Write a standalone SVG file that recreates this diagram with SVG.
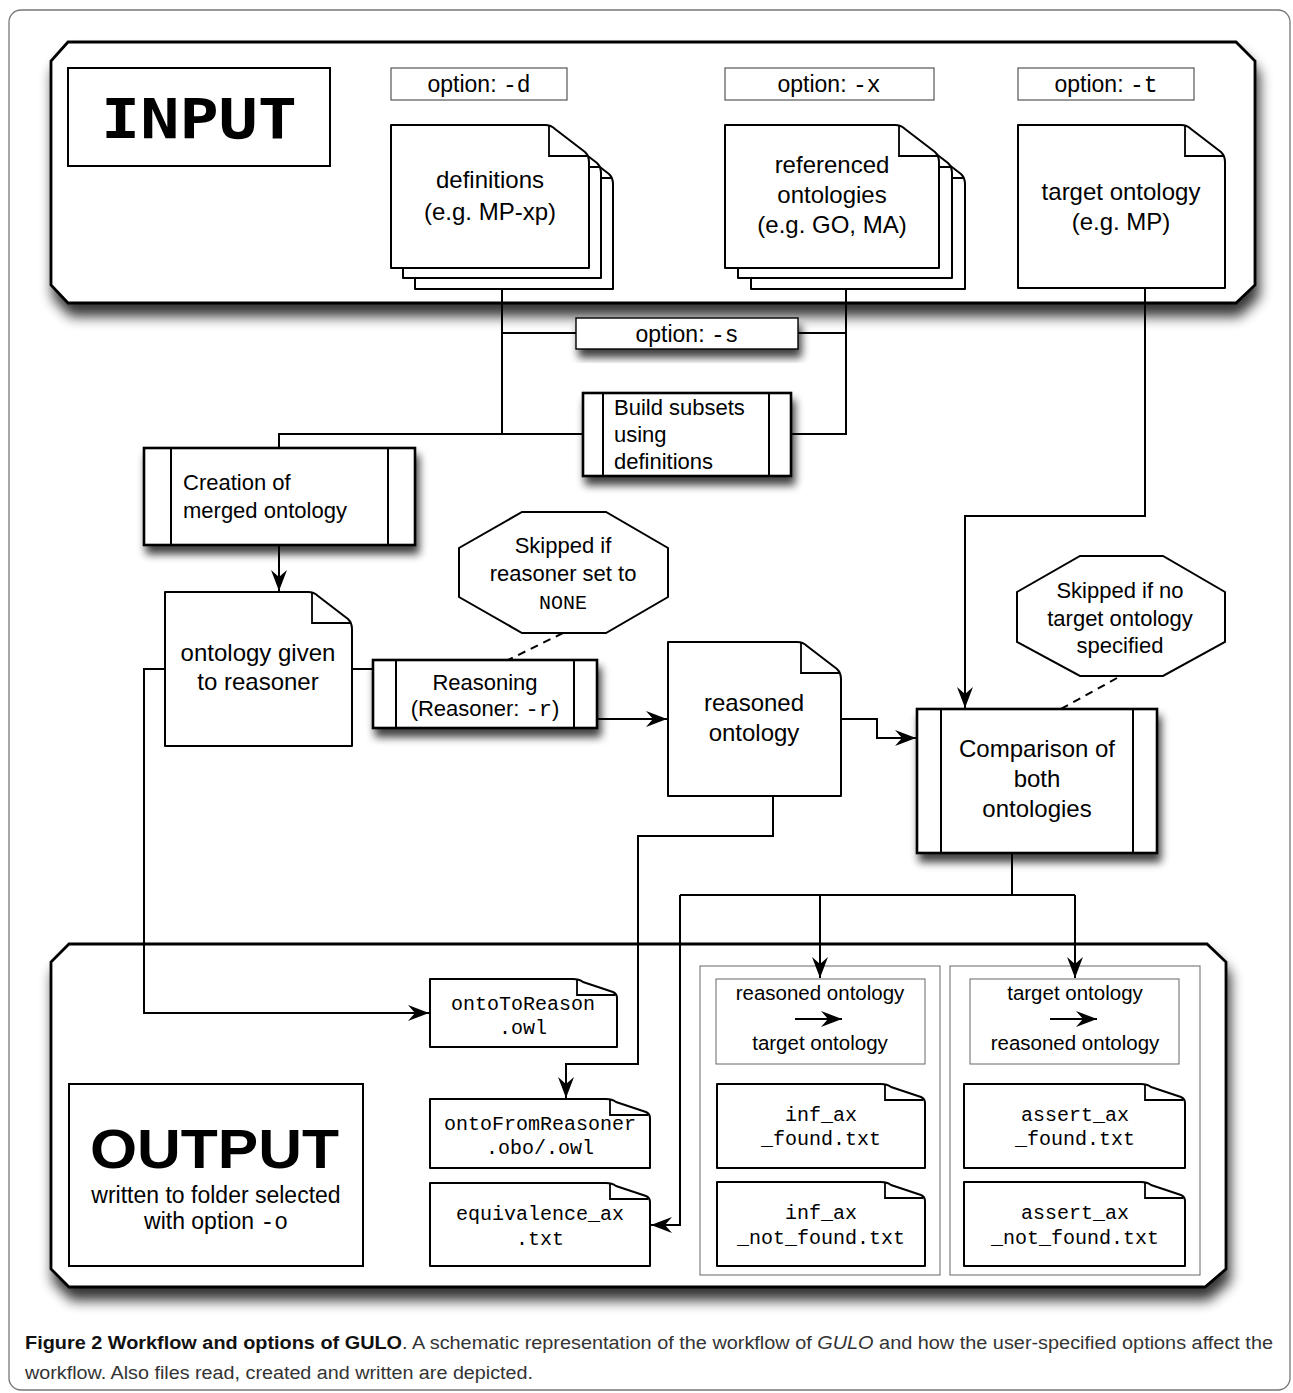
<svg xmlns="http://www.w3.org/2000/svg" width="1293" height="1393" viewBox="0 0 1293 1393">
<style>
.t{font-family:"Liberation Sans",Arial,sans-serif;font-size:24px;fill:#000;text-anchor:middle}
.s{font-size:22px}
.o{font-size:23px}
.h{font-size:20.5px}
.w{font-size:23px}
.l{text-anchor:start}
.m{font-family:"Liberation Mono","Courier New",monospace}
.ms{font-family:"Liberation Mono","Courier New",monospace;font-size:20px}
.box{fill:#fff;stroke:#000;stroke-width:2.6}
.bar{fill:none;stroke:#000;stroke-width:2}
.doc{fill:#fff;stroke:#000;stroke-width:2;stroke-linejoin:round}
.fold{fill:none;stroke:#000;stroke-width:1.8}
.opt{fill:#fff;stroke:#555;stroke-width:1.2}
.thin{fill:#fff;stroke:#666;stroke-width:1}
.panel{fill:#fff;stroke:#000;stroke-width:2.8;stroke-linejoin:miter}
.c{fill:none;stroke:#000;stroke-width:2}
.d{stroke-dasharray:8 6}
.oct{fill:#fff;stroke:#000;stroke-width:2}
.cap{font-family:"Liberation Sans",Arial,sans-serif;font-size:18px;fill:#333}
</style>
<defs>
<filter id="sh" x="-10%" y="-15%" width="130%" height="160%">
<feGaussianBlur in="SourceAlpha" stdDeviation="4.5"/>
<feOffset dx="3" dy="8"/>
<feComponentTransfer><feFuncA type="linear" slope="0.75"/></feComponentTransfer>
<feMerge><feMergeNode/><feMergeNode in="SourceGraphic"/></feMerge>
</filter>
<filter id="shp" x="-5%" y="-10%" width="110%" height="130%">
<feGaussianBlur in="SourceAlpha" stdDeviation="6.5"/>
<feOffset dx="3" dy="12"/>
<feComponentTransfer><feFuncA type="linear" slope="0.8"/></feComponentTransfer>
<feMerge><feMergeNode/><feMergeNode in="SourceGraphic"/></feMerge>
</filter>
<marker id="arr" viewBox="-24 -10 26 20" refX="0" refY="0" markerWidth="26" markerHeight="20" markerUnits="userSpaceOnUse" orient="auto">
<path d="M0,0 L-21,-8 L-14,0 L-21,8 Z" fill="#000"/>
</marker>
</defs>

<rect x="9" y="10" width="1281" height="1380" rx="12" fill="#fff" stroke="#777" stroke-width="1.3"/>

<g id="input-panel">
<path class="panel" filter="url(#shp)" d="M68,42 H1236 L1255,61 V285 L1236,303 H68 L51,285 V61 Z"/>
<rect x="68" y="68" width="262" height="98" fill="#fff" stroke="#000" stroke-width="2"/>
<text x="101" y="138" font-family="'DejaVu Sans Mono',monospace" font-weight="bold" font-size="55" textLength="196" lengthAdjust="spacingAndGlyphs">INPUT</text>
</g>

<g id="output-panel">
<path class="panel" filter="url(#shp)" d="M69,944 H1207 L1226,962 V1269 L1205,1287 H69 L51,1269 V962 Z"/>
<rect x="69" y="1084" width="294" height="182" fill="#fff" stroke="#000" stroke-width="2"/>
<text x="90" y="1168" font-family="'Liberation Sans',Arial,sans-serif" font-weight="bold" font-size="56" textLength="249" lengthAdjust="spacingAndGlyphs">OUTPUT</text>
<text class="t w" x="216" y="1203">written to folder selected</text>
<text class="t w" x="216" y="1229">with option <tspan class="m">-o</tspan></text>
<rect class="thin" x="700" y="966" width="240" height="309"/>
<rect class="thin" x="950" y="966" width="250" height="309"/>
</g>

<g id="connectors">
<path class="c" d="M502,289 V434 H279 V448"/>
<path class="c" d="M502,333 H576"/>
<path class="c" d="M798,333 H846"/>
<path class="c" d="M846,289 V434 H791"/>
<path class="c" d="M502,434 H583"/>
<path class="c" marker-end="url(#arr)" d="M279,545 V591"/>
<path class="c" marker-end="url(#arr)" d="M165,669 H144 V1013 H429"/>
<path class="c" d="M352,669 H373"/>
<path class="c" marker-end="url(#arr)" d="M597,719 H667"/>
<path class="c" marker-end="url(#arr)" d="M841,719 H877 V738 H916"/>
<path class="c" marker-end="url(#arr)" d="M1145,288 V516 H965 V708"/>
<path class="c" marker-end="url(#arr)" d="M773,796 V836 H638 V1064 H566 V1098"/>
<path class="c" d="M1012,853 V895"/>
<path class="c" d="M680,895 H1075"/>
<path class="c" marker-end="url(#arr)" d="M820,895 V978"/>
<path class="c" marker-end="url(#arr)" d="M1075,895 V978"/>
<path class="c" marker-end="url(#arr)" d="M680,895 V1225 H651"/>
<path class="c d" d="M563,633 L508,660"/>
<path class="c d" d="M1117,678 L1061,709"/>
</g>

<g id="opt-d">
<rect class="opt" x="391" y="68" width="176" height="32"/>
<text class="t o" x="479" y="92">option: <tspan class="m">-d</tspan></text>
</g>
<g id="opt-x">
<rect class="opt" x="725" y="68" width="209" height="32"/>
<text class="t o" x="829" y="92">option: <tspan class="m">-x</tspan></text>
</g>
<g id="opt-t">
<rect class="opt" x="1018" y="68" width="176" height="32"/>
<text class="t o" x="1106" y="92">option: <tspan class="m">-t</tspan></text>
</g>

<g id="definitions">
<path class="doc" d="M415,147 H569 Q575,147 579,151 L609,174 Q613,178 613,184 V289 H415 Z"/>
<path class="fold" d="M573,148 V178 H611"/>
<path class="doc" d="M403,136 H557 Q563,136 567,140 L597,163 Q601,167 601,173 V278 H403 Z"/>
<path class="fold" d="M561,137 V167 H599"/>
<path class="doc" d="M391,125 H545 Q551,125 555,129 L585,152 Q589,156 589,162 V268 H391 Z"/>
<path class="fold" d="M549,126 V156 H587"/>
<text class="t" x="490" y="188">definitions</text>
<text class="t" x="490" y="220">(e.g. MP-xp)</text>
</g>

<g id="referenced">
<path class="doc" d="M751,147 H921 Q927,147 931,151 L961,174 Q965,178 965,184 V289 H751 Z"/>
<path class="fold" d="M925,148 V178 H963"/>
<path class="doc" d="M738,136 H908 Q914,136 918,140 L948,163 Q952,167 952,173 V278 H738 Z"/>
<path class="fold" d="M912,137 V167 H950"/>
<path class="doc" d="M725,125 H895 Q901,125 905,129 L935,152 Q939,156 939,162 V268 H725 Z"/>
<path class="fold" d="M899,126 V156 H937"/>
<text class="t" x="832" y="173">referenced</text>
<text class="t" x="832" y="203">ontologies</text>
<text class="t" x="832" y="233">(e.g. GO, MA)</text>
</g>

<g id="target">
<path class="doc" d="M1018,125 H1181 Q1187,125 1191,129 L1221,152 Q1225,156 1225,162 V288 H1018 Z"/>
<path class="fold" d="M1185,126 V156 H1223"/>
<text class="t" x="1121" y="200">target ontology</text>
<text class="t" x="1121" y="230">(e.g. MP)</text>
</g>

<g id="opt-s">
<rect x="576" y="318" width="222" height="31" fill="#fff" stroke="#000" stroke-width="1.4" filter="url(#sh)"/>
<text class="t o" x="687" y="342">option: <tspan class="m">-s</tspan></text>
</g>

<g id="build-subsets">
<rect class="box" x="583" y="393" width="208" height="83" filter="url(#sh)"/>
<path class="bar" d="M603,393 V476 M769,393 V476"/>
<text class="t s l" x="614" y="415">Build subsets</text>
<text class="t s l" x="614" y="442">using</text>
<text class="t s l" x="614" y="469">definitions</text>
</g>

<g id="creation">
<rect class="box" x="144" y="448" width="271" height="97" filter="url(#sh)"/>
<path class="bar" d="M171,448 V545 M388,448 V545"/>
<text class="t s l" x="183" y="490">Creation of</text>
<text class="t s l" x="183" y="518">merged ontology</text>
</g>

<g id="ontology-given">
<path class="doc" d="M165,592 H308 Q314,592 318,596 L348,619 Q352,623 352,629 V746 H165 Z"/>
<path class="fold" d="M312,593 V623 H350"/>
<text class="t" x="258" y="661">ontology given</text>
<text class="t" x="258" y="690">to reasoner</text>
</g>

<g id="skip-reasoner">
<polygon class="oct" points="522,512 606,512 668,548 668,597 606,633 522,633 459,597 459,548"/>
<text class="t s" x="563" y="553">Skipped if</text>
<text class="t s" x="563" y="581">reasoner set to</text>
<text class="t ms" x="563" y="609">NONE</text>
</g>

<g id="reasoning">
<rect class="box" x="373" y="660" width="224" height="68" filter="url(#sh)"/>
<path class="bar" d="M396,660 V728 M574,660 V728"/>
<text class="t s" x="485" y="690">Reasoning</text>
<text class="t s" x="485" y="716">(Reasoner: <tspan class="m">-r</tspan>)</text>
</g>

<g id="reasoned">
<path class="doc" d="M668,642 H797 Q803,642 807,646 L837,669 Q841,673 841,679 V796 H668 Z"/>
<path class="fold" d="M801,643 V673 H839"/>
<text class="t" x="754" y="711">reasoned</text>
<text class="t" x="754" y="741">ontology</text>
</g>

<g id="skip-target">
<polygon class="oct" points="1080,556 1163,556 1225,592 1225,642 1163,676 1080,676 1017,642 1017,592"/>
<text class="t s" x="1120" y="598">Skipped if no</text>
<text class="t s" x="1120" y="626">target ontology</text>
<text class="t s" x="1120" y="653">specified</text>
</g>

<g id="comparison">
<rect class="box" x="917" y="709" width="240" height="144" filter="url(#sh)"/>
<path class="bar" d="M941,709 V853 M1133,709 V853"/>
<text class="t" x="1037" y="757">Comparison of</text>
<text class="t" x="1037" y="787">both</text>
<text class="t" x="1037" y="817">ontologies</text>
</g>

<g id="onto-to-reason">
<path class="doc" d="M430,979 H573 Q579,979 583,982 L613,992 Q617,994 617,998 V1047 H430 Z"/>
<path class="fold" d="M577,980 V995 H615"/>
<text class="t ms" x="523" y="1010">ontoToReason</text>
<text class="t ms" x="523" y="1034">.owl</text>
</g>

<g id="onto-from-reasoner">
<path class="doc" d="M430,1099 H606 Q612,1099 616,1102 L646,1112 Q650,1114 650,1118 V1168 H430 Z"/>
<path class="fold" d="M610,1100 V1115 H648"/>
<text class="t ms" x="540" y="1130">ontoFromReasoner</text>
<text class="t ms" x="540" y="1154">.obo/.owl</text>
</g>

<g id="equivalence">
<path class="doc" d="M430,1183 H606 Q612,1183 616,1186 L646,1196 Q650,1198 650,1202 V1266 H430 Z"/>
<path class="fold" d="M610,1184 V1199 H648"/>
<text class="t ms" x="540" y="1220">equivalence_ax</text>
<text class="t ms" x="540" y="1245">.txt</text>
</g>

<g id="header-reasoned-target">
<rect class="thin" x="716" y="979" width="209" height="85"/>
<text class="t h" x="820" y="1000">reasoned ontology</text>
<path class="c" marker-end="url(#arr)" d="M795,1019 H842"/>
<text class="t h" x="820" y="1050">target ontology</text>
</g>

<g id="header-target-reasoned">
<rect class="thin" x="970" y="979" width="209" height="85"/>
<text class="t h" x="1075" y="1000">target ontology</text>
<path class="c" marker-end="url(#arr)" d="M1050,1019 H1097"/>
<text class="t h" x="1075" y="1050">reasoned ontology</text>
</g>

<g id="inf-found">
<path class="doc" d="M717,1084 H881 Q887,1084 891,1087 L921,1097 Q925,1099 925,1103 V1168 H717 Z"/>
<path class="fold" d="M885,1085 V1100 H923"/>
<text class="t ms" x="821" y="1121">inf_ax</text>
<text class="t ms" x="821" y="1145">_found.txt</text>
</g>

<g id="inf-not-found">
<path class="doc" d="M717,1182 H881 Q887,1182 891,1185 L921,1195 Q925,1197 925,1201 V1266 H717 Z"/>
<path class="fold" d="M885,1183 V1198 H923"/>
<text class="t ms" x="821" y="1219">inf_ax</text>
<text class="t ms" x="821" y="1244">_not_found.txt</text>
</g>

<g id="assert-found">
<path class="doc" d="M964,1084 H1141 Q1147,1084 1151,1087 L1181,1097 Q1185,1099 1185,1103 V1168 H964 Z"/>
<path class="fold" d="M1145,1085 V1100 H1183"/>
<text class="t ms" x="1075" y="1121">assert_ax</text>
<text class="t ms" x="1075" y="1145">_found.txt</text>
</g>

<g id="assert-not-found">
<path class="doc" d="M964,1182 H1141 Q1147,1182 1151,1185 L1181,1195 Q1185,1197 1185,1201 V1266 H964 Z"/>
<path class="fold" d="M1145,1183 V1198 H1183"/>
<text class="t ms" x="1075" y="1219">assert_ax</text>
<text class="t ms" x="1075" y="1244">_not_found.txt</text>
</g>

<g id="caption">
<text class="cap" x="25" y="1349" textLength="1248" lengthAdjust="spacingAndGlyphs"><tspan font-weight="bold" fill="#111">Figure 2 Workflow and options of GULO</tspan>. A schematic representation of the workflow of <tspan font-style="italic">GULO</tspan> and how the user-specified options affect the</text>
<text class="cap" x="25" y="1379" textLength="508" lengthAdjust="spacingAndGlyphs">workflow. Also files read, created and written are depicted.</text>
</g>
</svg>
